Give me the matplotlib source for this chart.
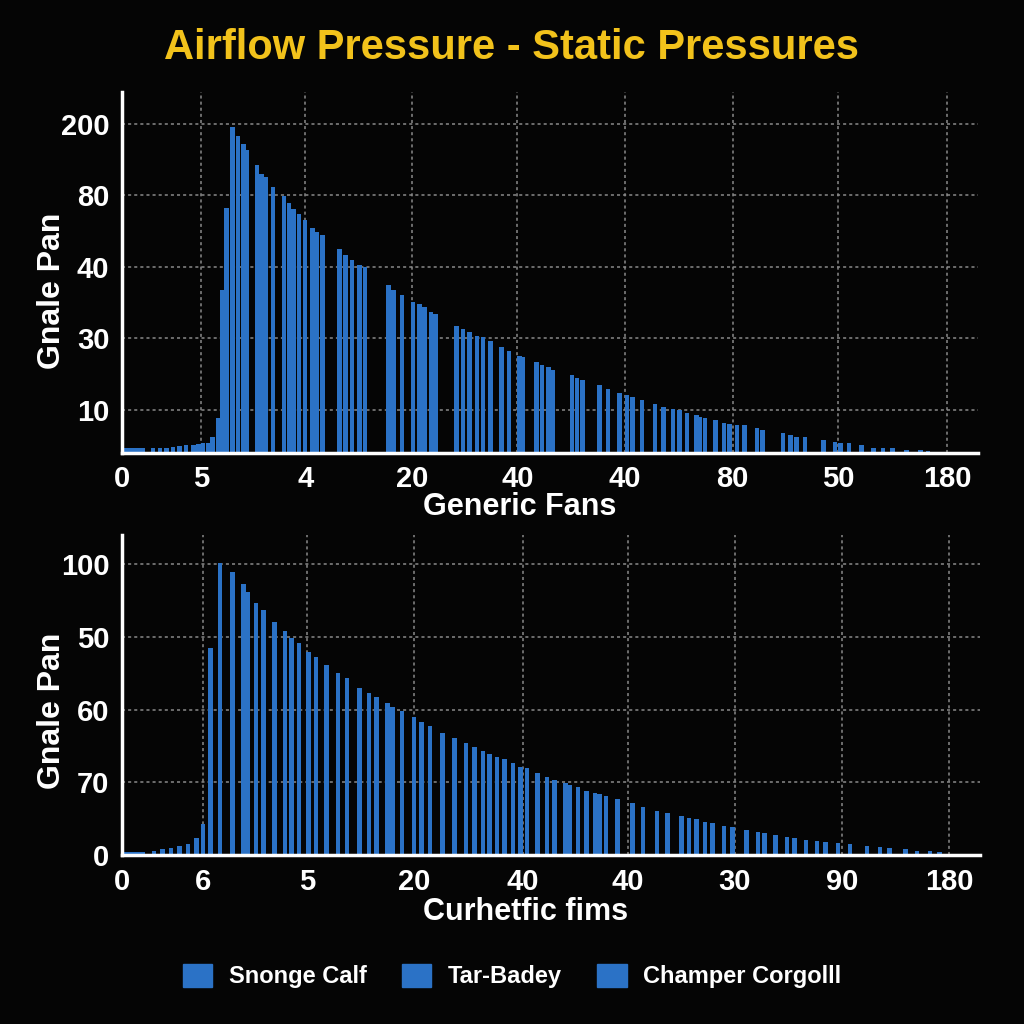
import matplotlib.pyplot as plt
from matplotlib.patches import Patch

# top panel
top_x = [0.4, 0.8, 1.2, 1.6, 2.0, 2.9, 3.6, 4.2, 4.8, 5.4, 6.0, 6.7, 7.2, 7.6, 8.1, 8.5, 9.0,
         9.4, 9.8, 10.4, 10.9, 11.4, 11.7, 12.7, 13.1, 13.5, 14.2, 15.2, 15.7, 16.1, 16.6,
         17.2, 17.9, 18.3, 18.8, 20.4, 21.0, 21.6, 22.3, 22.8, 25.0, 25.5, 26.3, 27.3, 27.9,
         28.4, 29.0, 29.4, 31.4, 32.0, 32.6, 33.3, 33.9, 34.6, 35.6, 36.3, 37.3, 37.6, 38.9,
         39.4, 40.0, 40.4, 42.2, 42.7, 43.2, 44.8, 45.6, 46.7, 47.4, 47.9, 48.8, 50.0, 50.8,
         51.7, 52.3, 53.0, 53.9, 54.2, 54.7, 55.7, 56.5, 57.0, 57.7, 58.4, 59.6, 60.1, 62.0,
         62.7, 63.3, 64.1, 65.8, 66.9, 67.4, 68.2, 69.4, 70.5, 71.4, 72.3, 73.6, 74.9, 75.6]
top_h = [0.6, 0.6, 0.6, 0.6, 0.6, 0.6, 0.7, 0.7, 0.8, 0.9, 1.0, 1.1, 1.2, 1.3, 1.4, 2.2, 4.9,
         22.8, 34.2, 45.5, 44.3, 43.2, 42.3, 40.2, 39.0, 38.5, 37.2, 35.9, 34.9, 34.1, 33.4,
         32.5, 31.4, 30.9, 30.4, 28.4, 27.7, 27.0, 26.3, 26.0, 23.5, 22.8, 22.1, 21.1, 20.8,
         20.4, 19.7, 19.4, 17.7, 17.3, 16.8, 16.3, 16.2, 15.6, 14.7, 14.2, 13.5, 13.4, 12.6,
         12.3, 12.0, 11.6, 10.8, 10.5, 10.1, 9.4, 8.9, 8.4, 8.1, 7.8, 7.3, 6.8, 6.4,
         6.1, 5.9, 5.6, 5.2, 5.0, 4.9, 4.5, 4.2, 4.0, 3.9, 3.8, 3.4, 3.1, 2.7,
         2.5, 2.2, 2.2, 1.8, 1.5, 1.4, 1.3, 1.0, 0.7, 0.7, 0.6, 0.4, 0.3, 0.2]
top_xticks = [0, 7.4, 17.2, 27.2, 37.1, 47.2, 57.3, 67.2, 77.4]
top_xlabels = ['0', '5', '4', '20', '40', '40', '80', '50', '180']
top_yticks = [6, 16, 26, 36, 46]
top_ylabels = ['10', '30', '40', '80', '200']

# bottom panel
bot_x = [0.4, 0.8, 1.2, 1.6, 2.0, 3.0, 3.8, 4.6, 5.4, 6.2, 7.0, 7.6, 8.3, 9.2,
         10.4, 11.4, 11.8, 12.6, 13.3, 14.3, 15.3, 15.9, 16.6, 17.5, 18.2, 19.2, 20.3, 21.1,
         22.3, 23.2, 23.9, 24.9, 25.4, 26.3, 27.4, 28.1, 28.9, 30.1, 31.2, 32.3, 33.1, 33.9,
         34.5, 35.2, 35.9, 36.7, 37.4, 38.0, 39.0, 39.9, 40.6, 41.6, 42.0, 42.8, 43.6, 44.4,
         44.8, 45.4, 46.5, 47.9, 48.9, 50.2, 51.2, 52.5, 53.2, 53.9, 54.7, 55.4, 56.5, 57.3,
         58.6, 59.7, 60.3, 61.3, 62.4, 63.1, 64.2, 65.2, 66.0, 67.2, 68.3, 69.9, 71.1, 72.0,
         73.5, 74.6, 75.8, 76.7]
bot_h = [0.4, 0.4, 0.4, 0.4, 0.4, 0.55, 0.8, 1.0, 1.2, 1.5, 2.3, 4.3, 28.5, 40.2,
         38.9, 37.3, 36.2, 34.7, 33.7, 32.1, 30.8, 29.8, 29.2, 27.9, 27.2, 26.1, 25.0, 24.3,
         23.0, 22.3, 21.7, 20.9, 20.4, 19.8, 19.0, 18.3, 17.7, 16.8, 16.1, 15.4, 14.9, 14.3,
         13.9, 13.5, 13.2, 12.7, 12.1, 12.0, 11.3, 10.7, 10.3, 9.9, 9.6, 9.4, 8.8, 8.5,
         8.4, 8.1, 7.7, 7.2, 6.6, 6.1, 5.8, 5.4, 5.1, 4.9, 4.5, 4.4, 4.0, 3.8,
         3.4, 3.1, 3.0, 2.8, 2.5, 2.3, 2.1, 1.9, 1.8, 1.6, 1.5, 1.2, 1.1, 1.0,
         0.8, 0.6, 0.5, 0.4]
bot_xticks = [0, 7.6, 17.4, 27.4, 37.6, 47.5, 57.5, 67.6, 77.6]
bot_xlabels = ['0', '6', '5', '20', '40', '40', '30', '90', '180']
bot_yticks = [0, 10, 20, 30, 40]
bot_ylabels = ['0', '70', '60', '50', '100']

legend_labels = ['Snonge Calf', 'Tar-Badey', 'Champer Corgolll']

blue = '#2b72c6'
bg = '#050505'
font = 'Liberation Sans'

fig = plt.figure(figsize=(10.24, 10.24), dpi=100, facecolor=bg)

def style(ax, xt, xl, yt, yl, xlab, xmax, ymax, xlab_pos):
    ax.set_facecolor(bg)
    ax.set_xlim(0, xmax)
    ax.set_ylim(0, ymax)
    ax.set_xticks(xt)
    ax.set_xticklabels(xl, fontsize=21, fontweight='bold', color='white', family=font)
    ax.set_yticks(yt)
    ax.set_yticklabels(yl, fontsize=21, fontweight='bold', color='white', family=font)
    ax.tick_params(length=0, pad=9)
    ax.grid(True, color='#8a8a8a', linestyle=(0, (2, 2)), linewidth=1.1)
    ax.set_axisbelow(True)
    for s in ['top', 'right']:
        ax.spines[s].set_visible(False)
    for s in ['left', 'bottom']:
        ax.spines[s].set_color('white')
        ax.spines[s].set_linewidth(2.5)
    ax.set_xlabel(xlab, fontsize=22, fontweight='bold', color='white', family=font)
    ax.xaxis.set_label_coords(*xlab_pos)
    ax.set_ylabel('Gnale Pan', fontsize=23, fontweight='bold', color='white', family=font)
    ax.yaxis.set_label_coords(-0.064, 0.45)

ax1 = fig.add_axes([0.119, 0.558, 0.836, 0.352])
ax1.bar(top_x, top_h, width=0.42, color=blue, align='center')
style(ax1, top_xticks, top_xlabels, top_yticks, top_ylabels, 'Generic Fans', 80.3, 50.4,
      (0.465, -0.11))

ax2 = fig.add_axes([0.119, 0.165, 0.838, 0.3125])
ax2.bar(bot_x, bot_h, width=0.42, color=blue, align='center')
style(ax2, bot_xticks, bot_xlabels, bot_yticks, bot_ylabels, 'Curhetfic fims', 80.5, 44,
      (0.47, -0.13))

fig.text(0.5, 0.953, 'Airflow Pressure - Static Pressures', ha='center', va='center',
         fontsize=30, fontweight='bold', color='#f2c21b', family=font)

handles = [Patch(color=blue) for _ in legend_labels]
fig.legend(handles, legend_labels, loc='center', bbox_to_anchor=(0.5, 0.047), ncol=3,
           frameon=False, handlelength=1.25, handleheight=1.15, columnspacing=1.5,
           handletextpad=0.7, prop={'family': font, 'weight': 'bold', 'size': 17},
           labelcolor='white')

fig.savefig('out.png', dpi=100, facecolor=bg)
